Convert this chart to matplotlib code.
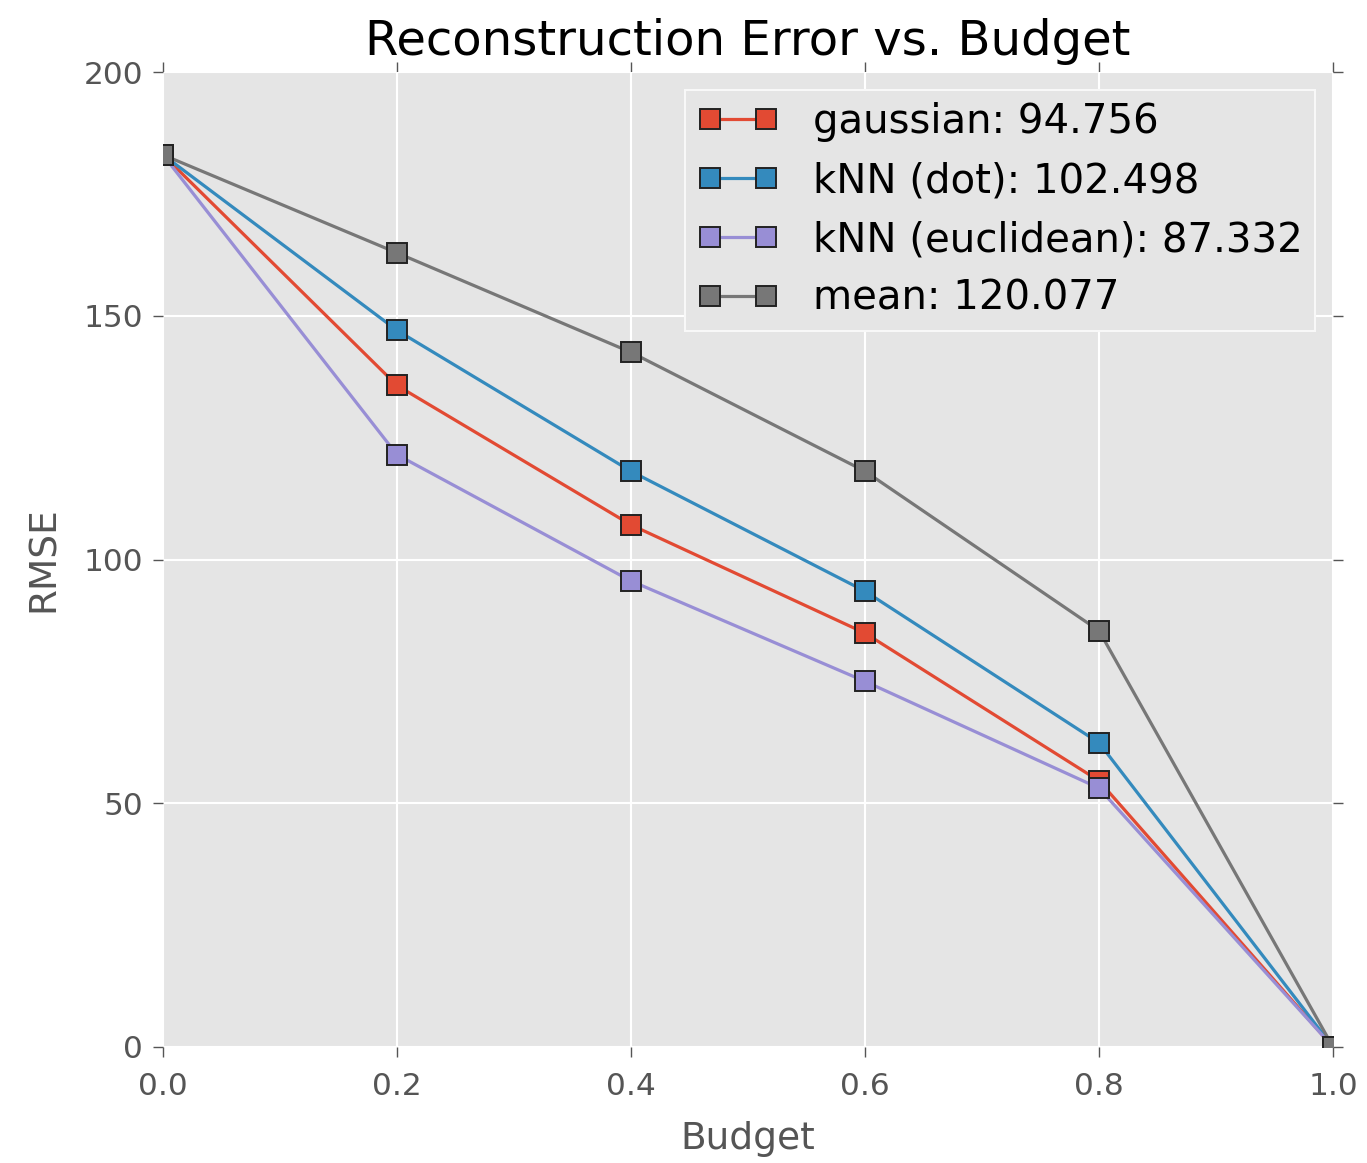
import matplotlib
matplotlib.use("Agg")
import matplotlib.pyplot as plt

# Budget fractions on the x axis
budget = [0.0, 0.2, 0.4, 0.6, 0.8, 1.0]

# RMSE per method at each budget
rmse_gaussian = [183.0, 135.7, 107.1, 84.9, 54.6, 0.0]
rmse_knn_dot = [183.0, 147.0, 118.1, 93.5, 62.4, 0.0]
rmse_knn_euclid = [183.0, 121.5, 95.6, 75.0, 53.1, 0.0]
rmse_mean = [183.0, 162.9, 142.5, 118.1, 85.4, 0.0]

# Area-under-curve scores shown in the legend
method_names = ["gaussian", "kNN (dot)", "kNN (euclidean)", "mean"]
method_scores = [94.756, 102.498, 87.332, 120.077]

colors = ["#E24A33", "#348ABD", "#988ED5", "#777777"]

xticks = [0.0, 0.2, 0.4, 0.6, 0.8, 1.0]
yticks = [0, 50, 100, 150, 200]

fig = plt.figure(figsize=(13.67, 11.63), dpi=100)
ax = fig.add_axes([163 / 1367, 1 - 1047 / 1163, (1333 - 163) / 1367, (1047 - 72) / 1163])
ax.set_facecolor("#E5E5E5")
for sp in ax.spines.values():
    sp.set_visible(False)

ax.grid(True, color="white", linewidth=1.5, linestyle="-")
ax.set_axisbelow(True)

series = [rmse_gaussian, rmse_knn_dot, rmse_knn_euclid, rmse_mean]
for name, score, vals, c in zip(method_names, method_scores, series, colors):
    ax.plot(budget, vals, color=c, linewidth=2.3, marker="s", markersize=15,
            markerfacecolor=c, markeredgecolor="#222222", markeredgewidth=1.4,
            label=f"{name}: {score:.3f}")

ax.set_xlim(0.0, 1.0)
ax.set_ylim(0, 200)
ax.set_xticks(xticks)
ax.set_yticks(yticks)
ax.set_xticklabels([f"{t:.1f}" for t in xticks])
ax.set_yticklabels([str(t) for t in yticks])

ax.tick_params(axis="both", which="major", direction="out", length=7.2, width=1.0,
               color="#555555", labelcolor="#555555", labelsize=22.5,
               top=True, right=True)
ax.tick_params(axis="x", pad=11)
ax.tick_params(axis="y", pad=7)

ax.set_xlabel("Budget", fontsize=27, color="#555555", labelpad=14)
ax.set_ylabel("RMSE", fontsize=27, color="#555555", labelpad=16)
ax.set_title("Reconstruction Error vs. Budget", fontsize=34.7, color="black",
             y=1.0 + 17 / 975, pad=0)

leg = ax.legend(loc="upper right", fontsize=29, numpoints=2,
                frameon=True, fancybox=False, borderaxespad=0.45,
                handlelength=2.0, handletextpad=0.87, labelspacing=0.47,
                borderpad=0.3)
leg.get_frame().set_facecolor("#E5E5E5")
leg.get_frame().set_edgecolor("#F8F8F8")
leg.get_frame().set_linewidth(1.5)
leg.get_frame().set_alpha(1.0)

fig.savefig("out.png", dpi=100)
